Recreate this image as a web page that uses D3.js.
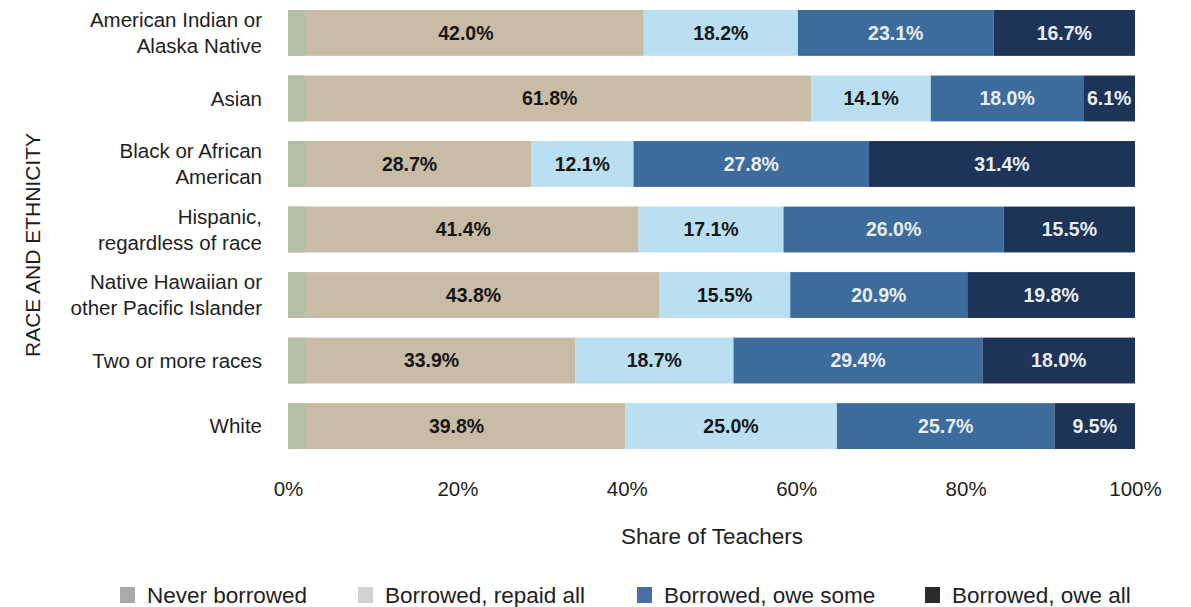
<!DOCTYPE html>
<html>
<head>
<meta charset="utf-8">
<script src="https://cdn.jsdelivr.net/npm/d3@7"></script>
<style>
  body { margin: 0; background: #fff; }
  text { font-family: "Liberation Sans", Arial, sans-serif; }
</style>
</head>
<body>
<svg id="chart"></svg>
<script>
// categories (top to bottom), label lines
const categories = [
  'American Indian or|Alaska Native',
  'Asian',
  'Black or African|American',
  'Hispanic,|regardless of race',
  'Native Hawaiian or|other Pacific Islander',
  'Two or more races',
  'White'
]

// series values, percent
const neverBorrowed = [42.0, 61.8, 28.7, 41.4, 43.8, 33.9, 39.8]
const repaidAll     = [18.2, 14.1, 12.1, 17.1, 15.5, 18.7, 25.0]
const oweSome       = [23.1, 18.0, 27.8, 26.0, 20.9, 29.4, 25.7]
const oweAll        = [16.7,  6.1, 31.4, 15.5, 19.8, 18.0,  9.5]

const seriesNames = ['Never borrowed', 'Borrowed, repaid all', 'Borrowed, owe some', 'Borrowed, owe all']
const xTicks = [0, 20, 40, 60, 80, 100]

const barColors = ['#c9bca6', '#b9dff0', '#3c6b9c', '#1d3357']
const textColors = ['#161616', '#161616', '#e8eef5', '#e8eef5']
const legendColors = ['#a9a9a9', '#d2d2d2', '#4a6fa5', '#2b2b2b']

const width = 1191
const height = 607

const svg = d3.select('#chart')
  .attr('width', width)
  .attr('height', height)

const x = d3.scaleLinear().domain([0, 100]).range([288, 1135])
const y = d3.scaleBand()
  .domain(categories)
  .range([10, 449])
  .paddingInner(0.3)
  .paddingOuter(0)

// build stacked rows
const rows = categories.map((c, i) => ({
  cat: c,
  vals: [neverBorrowed[i], repaidAll[i], oweSome[i], oweAll[i]]
}))

const stack = d3.stack()
  .keys([0, 1, 2, 3])
  .value((d, k) => d.vals[k])

const layers = stack(rows)

const g = svg.append('g')

layers.forEach((layer, k) => {
  g.selectAll(null)
    .data(layer)
    .join('rect')
      .attr('x', d => x(d[0]))
      .attr('y', d => y(d.data.cat))
      .attr('width', d => x(d[1]) - x(d[0]))
      .attr('height', y.bandwidth())
      .attr('fill', barColors[k])
})

// thin grey-green strip at the left of each bar
g.selectAll('rect.strip')
  .data(rows)
  .join('rect')
    .attr('class', 'strip')
    .attr('x', x(0))
    .attr('y', d => y(d.cat))
    .attr('width', x(2) - x(0))
    .attr('height', y.bandwidth())
    .attr('fill', '#b4bfa8')

// segment labels
layers.forEach((layer, k) => {
  g.selectAll(null)
    .data(layer)
    .join('text')
      .attr('x', d => (x(d[0]) + x(d[1])) / 2)
      .attr('y', d => y(d.data.cat) + y.bandwidth() / 2)
      .attr('dy', '0.35em')
      .attr('text-anchor', 'middle')
      .attr('font-size', 19.5)
      .attr('font-weight', 'bold')
      .attr('fill', textColors[k])
      .text(d => (d[1] - d[0]).toFixed(1) + '%')
})

// category labels
const catLabels = svg.append('g')
  .selectAll('text')
  .data(categories)
  .join('text')
    .attr('text-anchor', 'end')
    .attr('font-size', 20.5)
    .attr('fill', '#1e1e1e')

catLabels.each(function(c) {
  const lines = c.split('|')
  const cy = y(c) + y.bandwidth() / 2
  const lh = 26
  d3.select(this).selectAll('tspan')
    .data(lines)
    .join('tspan')
      .attr('x', 262)
      .attr('y', (d, i) => cy + (i - (lines.length - 1) / 2) * lh)
      .attr('dy', '0.35em')
      .text(d => d)
})

// x axis, labels only
const xAxis = d3.axisBottom(x)
  .tickValues(xTicks)
  .tickFormat(d => d + '%')
  .tickSize(0)
  .tickPadding(0)

const ax = svg.append('g')
  .attr('transform', 'translate(0,481)')
  .call(xAxis)
ax.select('.domain').remove()
ax.selectAll('text')
  .attr('font-size', 20.5)
  .attr('fill', '#1e1e1e')
  .attr('font-family', '"Liberation Sans", Arial, sans-serif')

svg.append('text')
  .attr('x', 712)
  .attr('y', 544)
  .attr('text-anchor', 'middle')
  .attr('font-size', 22.5)
  .attr('fill', '#1e1e1e')
  .text('Share of Teachers')

svg.append('text')
  .attr('transform', 'translate(40,245) rotate(-90)')
  .attr('text-anchor', 'middle')
  .attr('font-size', 21)
  .attr('fill', '#1e1e1e')
  .text('RACE AND ETHNICITY')

// legend
const legendX = [120, 358, 637, 925]
const leg = svg.append('g')
  .selectAll('g')
  .data(seriesNames)
  .join('g')
    .attr('transform', (d, i) => `translate(${legendX[i]},595)`)

leg.append('rect')
  .attr('x', 0)
  .attr('y', -8)
  .attr('width', 15)
  .attr('height', 16)
  .attr('fill', (d, i) => legendColors[i])

leg.append('text')
  .attr('x', 27)
  .attr('dy', '0.35em')
  .attr('font-size', 22.5)
  .attr('fill', '#1e1e1e')
  .text(d => d)
</script>
</body>
</html>
